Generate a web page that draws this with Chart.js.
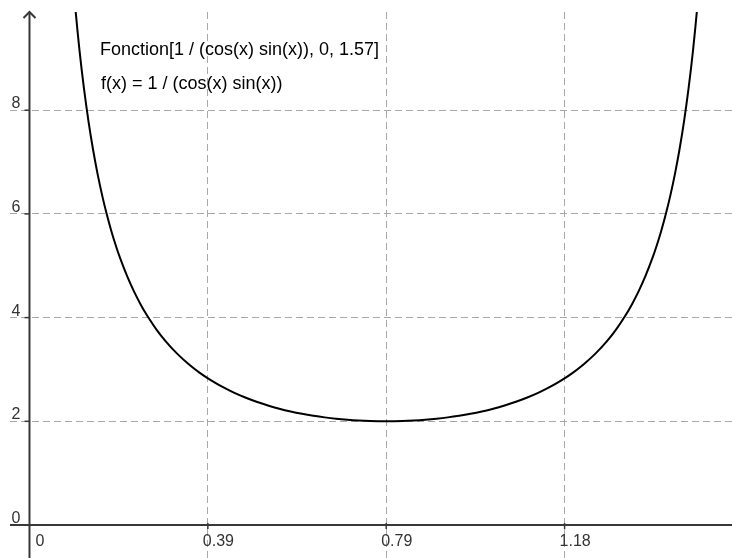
<!DOCTYPE html>
<html>
<head>
<meta charset="utf-8">
<script src="https://cdn.jsdelivr.net/npm/chart.js@4"></script>
<style>
  body { margin: 0; background: #fff; }
  canvas { display: block; }
</style>
</head>
<body>
<canvas id="myChart" width="732" height="558"></canvas>
<script>
// values
const xValues = [0.09, 0.10, 0.11, 0.12, 0.13, 0.14, 0.15, 0.16, 0.17, 0.18, 0.19, 0.20, 0.215, 0.23, 0.245, 0.26, 0.28, 0.30, 0.325, 0.35,
                 0.375, 0.40, 0.425, 0.45, 0.475, 0.50, 0.525, 0.55, 0.575, 0.60, 0.625, 0.65, 0.675, 0.70, 0.725, 0.75, 0.785,
                 0.821, 0.846, 0.871, 0.896, 0.921, 0.946, 0.971, 0.996, 1.021, 1.046, 1.071, 1.096, 1.121, 1.146, 1.171, 1.196,
                 1.221, 1.246, 1.271, 1.291, 1.311, 1.326, 1.341, 1.356, 1.371, 1.381, 1.391, 1.401, 1.411, 1.421, 1.431, 1.441,
                 1.451, 1.461, 1.471, 1.481];
const yValues = [11.171, 10.067, 9.165, 8.414, 7.780, 7.237, 6.768, 6.358, 5.997, 5.677, 5.392, 5.136, 4.798, 4.505, 4.250, 4.025, 3.765, 3.542, 3.305, 3.105,
                 2.934, 2.788, 2.662, 2.553, 2.459, 2.377, 2.306, 2.244, 2.191, 2.146, 2.108, 2.076, 2.050, 2.030, 2.015, 2.005, 2.000,
                 2.005, 2.015, 2.030, 2.050, 2.076, 2.108, 2.146, 2.191, 2.244, 2.306, 2.377, 2.459, 2.553, 2.662, 2.788, 2.934,
                 3.105, 3.305, 3.542, 3.765, 4.025, 4.250, 4.505, 4.798, 5.136, 5.392, 5.677, 5.997, 6.358, 6.768, 7.237, 7.780,
                 8.414, 9.165, 10.067, 11.171];

const xTickValues = [0, 0.3927, 0.7854, 1.1781];
const xTickLabels = ["0", "0.39", "0.79", "1.18"];
const yTickValues = [0, 2, 4, 6, 8];
const yTickLabels = ["0", "2", "4", "6", "8"];

const titleLines = ["Fonction[1 / (cos(x) sin(x)), 0, 1.57]", "f(x) = 1 / (cos(x) sin(x))"];

const axisColor = "#383838";
const gridColor = "#a8a8a8";

const axesPlugin = {
  id: "axes",
  afterDraw(chart) {
    const ctx = chart.ctx;
    const xs = chart.scales.x;
    const ys = chart.scales.y;
    const x0 = xs.getPixelForValue(0);
    const y0 = ys.getPixelForValue(0);
    const area = chart.chartArea;

    ctx.save();
    ctx.strokeStyle = axisColor;
    ctx.lineWidth = 2;
    ctx.setLineDash([]);

    // x axis
    ctx.beginPath();
    ctx.moveTo(area.left, y0);
    ctx.lineTo(area.right, y0);
    ctx.stroke();

    // y axis with arrow
    ctx.beginPath();
    ctx.moveTo(x0, chart.height);
    ctx.lineTo(x0, area.top);
    ctx.stroke();
    ctx.beginPath();
    ctx.moveTo(x0 - 6, area.top + 6);
    ctx.lineTo(x0, area.top);
    ctx.lineTo(x0 + 6, area.top + 6);
    ctx.stroke();

    // tick marks
    ctx.lineWidth = 1.5;
    xTickValues.forEach(v => {
      if (v === 0) return;
      const px = xs.getPixelForValue(v);
      ctx.beginPath();
      ctx.moveTo(px, y0 - 2);
      ctx.lineTo(px, y0 + 4);
      ctx.stroke();
    });
    yTickValues.forEach(v => {
      if (v === 0) return;
      const py = ys.getPixelForValue(v);
      ctx.beginPath();
      ctx.moveTo(x0 - 5, py);
      ctx.lineTo(x0, py);
      ctx.stroke();
    });

    // tick labels
    ctx.fillStyle = "#333";
    ctx.font = "16px 'Liberation Sans', Arial, sans-serif";
    ctx.textBaseline = "alphabetic";
    ctx.textAlign = "left";
    xTickValues.forEach((v, i) => {
      const px = xs.getPixelForValue(v);
      const lx = v === 0 ? px + 6 : px - 5;
      ctx.fillText(xTickLabels[i], lx, y0 + 21);
    });
    ctx.textAlign = "right";
    yTickValues.forEach((v, i) => {
      const py = ys.getPixelForValue(v);
      ctx.fillText(yTickLabels[i], x0 - 9, py - 2);
    });

    // function label
    ctx.fillStyle = "#000";
    ctx.textAlign = "left";
    ctx.font = "18px 'Liberation Sans', Arial, sans-serif";
    ctx.fillText(titleLines[0], 100, 55);
    ctx.fillText(titleLines[1], 101, 89);
    ctx.restore();
  }
};

const ctx = document.getElementById("myChart");
new Chart(ctx, {
  type: "line",
  data: {
    datasets: [{
      data: xValues.map((x, i) => ({ x: x, y: yValues[i] })),
      borderColor: "#000",
      borderWidth: 2,
      pointRadius: 0,
      fill: false,
      cubicInterpolationMode: "monotone"
    }]
  },
  options: {
    responsive: false,
    animation: false,
    layout: { padding: { left: 10, top: 12, right: 0, bottom: 0 } },
    plugins: { legend: { display: false }, tooltip: { enabled: false } },
    scales: {
      x: {
        type: "linear",
        min: -0.0429,
        max: 1.5467,
        afterBuildTicks: s => { s.ticks = xTickValues.map(v => ({ value: v })); },
        ticks: { display: false },
        border: { display: false, dash: [7, 4] },
        grid: { color: gridColor, lineWidth: 1, drawTicks: false }
      },
      y: {
        type: "linear",
        min: -0.636,
        max: 9.894,
        afterBuildTicks: s => { s.ticks = yTickValues.map(v => ({ value: v })); },
        ticks: { display: false },
        border: { display: false, dash: [7, 4] },
        grid: { color: gridColor, lineWidth: 1, drawTicks: false }
      }
    }
  },
  plugins: [axesPlugin]
});
</script>
</body>
</html>
